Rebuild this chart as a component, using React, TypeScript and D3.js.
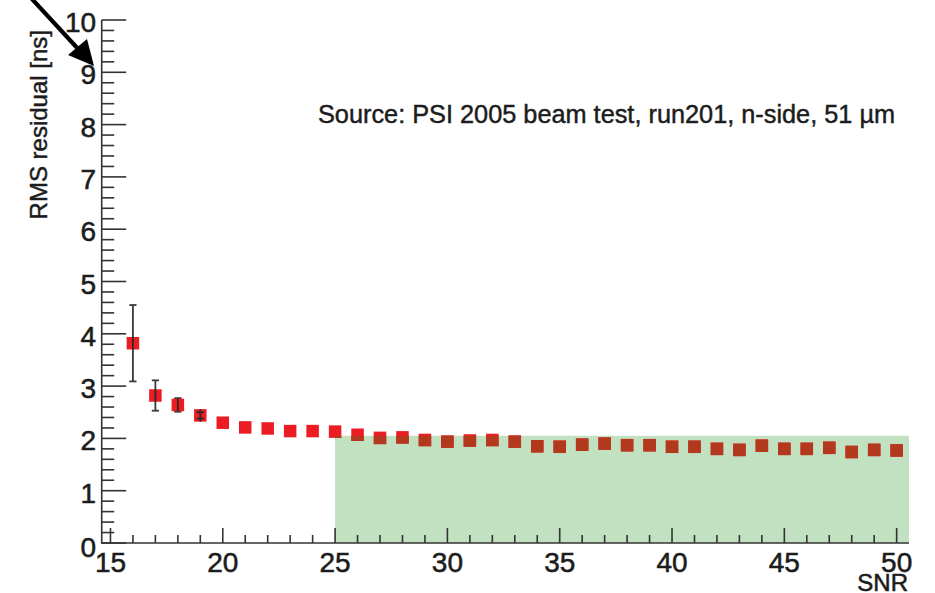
import React from "react";
import * as d3 from "d3";

// SNR bins and the RMS timing residual measured in each bin
const snrValues = [16, 17, 18, 19, 20, 21, 22, 23, 24, 25, 26, 27, 28, 29, 30, 31, 32, 33,
  34, 35, 36, 37, 38, 39, 40, 41, 42, 43, 44, 45, 46, 47, 48, 49, 50];
const rmsValues = [3.82, 2.82, 2.64, 2.44, 2.30, 2.21, 2.19, 2.14, 2.14, 2.13, 2.07, 2.01, 2.02,
  1.97, 1.94, 1.96, 1.97, 1.94, 1.85, 1.84, 1.88, 1.90, 1.87, 1.87, 1.84, 1.84, 1.80, 1.78,
  1.86, 1.80, 1.80, 1.82, 1.74, 1.78, 1.77];
// statistical errors (symmetric) for the lowest-SNR bins; the rest are smaller than the marker
const rmsErrors = [0.73, 0.29, 0.13, 0.06, 0.03, 0.02, 0.02, 0.02, 0.02, 0.02, 0.02, 0.02, 0.02,
  0.02, 0.02, 0.02, 0.02, 0.02, 0.02, 0.02, 0.02, 0.02, 0.02, 0.02, 0.02, 0.02, 0.02, 0.02,
  0.02, 0.02, 0.02, 0.02, 0.02, 0.02, 0.02];

const xTickLabels = [15, 20, 25, 30, 35, 40, 45, 50];
const yTickLabels = [0, 1, 2, 3, 4, 5, 6, 7, 8, 9, 10];

// accepted region: SNR above 25 with residual at or below ~2 ns
const bandSnrMin = 25;
const bandRmsMax = 2.05;

const W = 935;
const H = 593;
const FONT = "'Liberation Sans', Arial, Helvetica, sans-serif";
const TXT = "#1c1c1c";

export default function App() {
  const x = d3.scaleLinear().domain([14.61, 50.55]).range([101.7, 909]);
  const y = d3.scaleLinear().domain([0, 10]).range([543, 20]);
  const [x0, x1] = x.range();
  const [yb, yt] = y.range();

  const yMinor = d3.range(0, 10.001, 0.2).filter((v) => Math.abs(v - Math.round(v)) > 1e-6);
  const xMinor = d3.range(15, 51, 1).filter((v) => v % 5 !== 0);

  const pts = snrValues.map((s, i) => ({ s, v: rmsValues[i], e: rmsErrors[i] }));
  const m = 12.5; // marker side

  const markers = (fill: string) =>
    pts.map((p) => (
      <rect key={p.s} x={x(p.s) - m / 2} y={y(p.v) - m / 2} width={m} height={m} fill={fill} />
    ));

  // text is drawn with a thin outline in its own colour for a heavier Helvetica look
  const heavy = { fill: TXT, stroke: TXT, strokeWidth: 0.55 };

  return (
    <svg
      width={W}
      height={H}
      viewBox={`0 0 ${W} ${H}`}
      style={{ position: "fixed", left: 0, top: 0, display: "block", background: "#fff" }}
      fontFamily={FONT}
    >
      <defs>
        <clipPath id="band-clip">
          <rect x={x(bandSnrMin)} y={y(bandRmsMax)} width={x1 - x(bandSnrMin)} height={y(0) - y(bandRmsMax)} />
        </clipPath>
      </defs>

      {/* accepted region */}
      <rect
        x={x(bandSnrMin)}
        y={y(bandRmsMax)}
        width={x1 - x(bandSnrMin)}
        height={y(0) - y(bandRmsMax)}
        fill="#c1e1c1"
      />

      {/* error bars */}
      {pts.filter((p) => p.e > 0.04).map((p) => (
        <g key={p.s} stroke="#3a3a3a" strokeWidth={1.8}>
          <line x1={x(p.s)} x2={x(p.s)} y1={y(p.v + p.e)} y2={y(p.v - p.e)} />
          <line x1={x(p.s) - 3.6} x2={x(p.s) + 3.6} y1={y(p.v + p.e)} y2={y(p.v + p.e)} />
          <line x1={x(p.s) - 3.6} x2={x(p.s) + 3.6} y1={y(p.v - p.e)} y2={y(p.v - p.e)} />
        </g>
      ))}

      {/* markers */}
      <g>{markers("#ec1c24")}</g>
      <g clipPath="url(#band-clip)">{markers("#b2381e")}</g>

      {/* error bars drawn through the markers */}
      {pts.filter((p) => p.e > 0.04).map((p) => (
        <g key={"c" + p.s} stroke="#2a2a2a" strokeWidth={1.8}>
          <line x1={x(p.s)} x2={x(p.s)} y1={y(p.v) - m / 2} y2={y(p.v) + m / 2} />
          {p.e * 52.3 < m / 2 && (
            <>
              <line x1={x(p.s) - 3.6} x2={x(p.s) + 3.6} y1={y(p.v + p.e)} y2={y(p.v + p.e)} />
              <line x1={x(p.s) - 3.6} x2={x(p.s) + 3.6} y1={y(p.v - p.e)} y2={y(p.v - p.e)} />
            </>
          )}
        </g>
      ))}

      {/* y axis */}
      <g stroke="#333" strokeWidth={1.6}>
        <line x1={x0} x2={x0} y1={yt} y2={yb + 0.8} />
        {yTickLabels.map((v) => (
          <line key={v} x1={x0} x2={x0 + 24.5} y1={y(v)} y2={y(v)} />
        ))}
        {yMinor.map((v) => (
          <line key={v} x1={x0} x2={x0 + 12.5} y1={y(v)} y2={y(v)} />
        ))}
      </g>
      <g {...heavy} fontSize={28} textAnchor="end">
        {yTickLabels.map((v) => (
          <text key={v} x={x0 - 5.5} y={y(v) + (v === 0 ? 14 : 12)}>
            {v}
          </text>
        ))}
      </g>

      {/* x axis */}
      <g stroke="#333" strokeWidth={1.6}>
        <line x1={x0} x2={x1} y1={yb} y2={yb} />
        {xTickLabels.map((v) => (
          <line key={v} x1={x(v)} x2={x(v)} y1={yb} y2={yb - 15} />
        ))}
        {xMinor.map((v) => (
          <line key={v} x1={x(v)} x2={x(v)} y1={yb} y2={yb - 8} />
        ))}
      </g>
      <g {...heavy} fontSize={28} textAnchor="middle">
        {xTickLabels.map((v) => (
          <text key={v} x={x(v)} y={yb + 28.5}>
            {v}
          </text>
        ))}
      </g>

      {/* axis titles */}
      <text x={908} y={590.5} {...heavy} fontSize={24} textAnchor="end">
        SNR
      </text>
      <text
        transform="translate(46.5,30) rotate(-90)"
        {...heavy}
        strokeWidth={0.45}
        fontSize={24}
        textAnchor="end"
      >
        RMS residual [ns]
      </text>

      {/* annotation */}
      <text x={318} y={123} {...heavy} strokeWidth={0.45} fontSize={25.3}>
        Source: PSI 2005 beam test, run201, n-side, 51 µm
      </text>

      {/* pointer arrow */}
      <line x1={20} x2={80} y1={-14} y2={51} stroke="#000" strokeWidth={4.2} />
      <polygon points="68,55 87,39 94,66" fill="#000" />
    </svg>
  );
}
